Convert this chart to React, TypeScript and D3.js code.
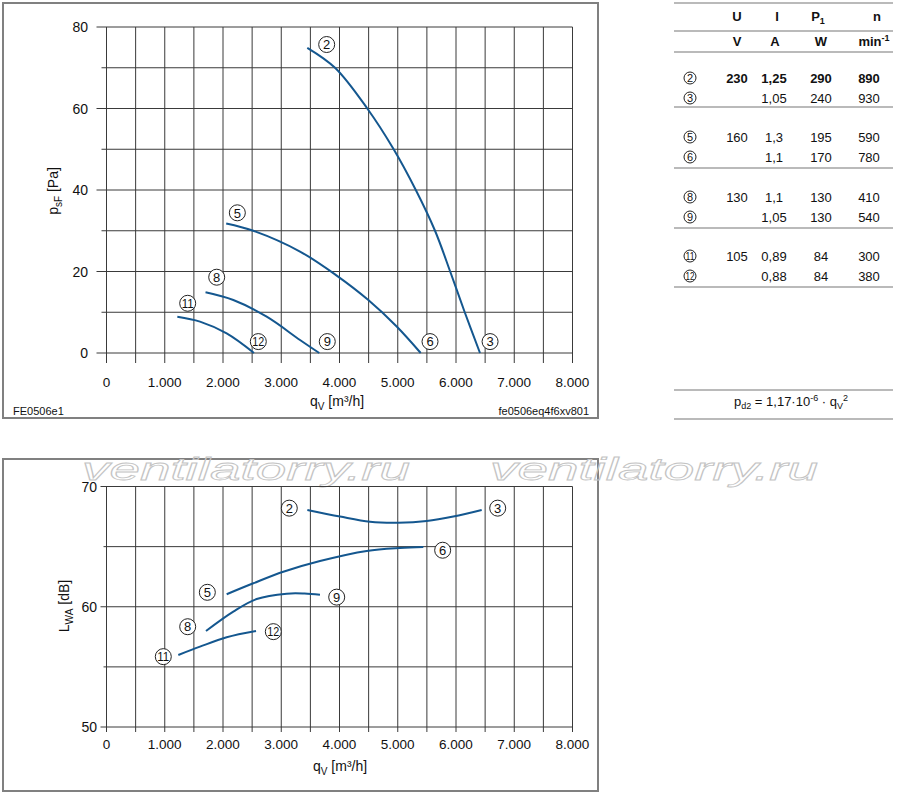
import * as d3 from 'd3'

// flow axis shared by both charts
const flowTicks = [0, 1000, 2000, 3000, 4000, 5000, 6000, 7000, 8000]
const flowLabels = ['0', '1.000', '2.000', '3.000', '4.000', '5.000', '6.000', '7.000', '8.000']
const flowGrid = d3.range(0, 8001, 500)

const pressureTicks = [0, 20, 40, 60, 80]
const pressureGrid = d3.range(0, 81, 10)
const soundTicks = [50, 60, 70]
const soundGrid = d3.range(50, 71, 5)

// pressure curves [qV m3/h, psF Pa]
const press23: [number, number][] = [
  [3447, 74.9], [3923, 70], [4477, 60], [4930, 50], [5310, 40],
  [5640, 30], [5900, 20], [6150, 10], [6412, 0],
]
const press56: [number, number][] = [
  [2055, 31.8], [2520, 30.0], [3322, 24.9], [3952, 19.0], [4495, 13.0],
  [4982, 6.5], [5394, 0],
]
const press89: [number, number][] = [
  [1700, 14.9], [2177, 13.0], [2750, 8.9], [3322, 3.2], [3653, 0],
]
const press1112: [number, number][] = [
  [1216, 8.9], [1605, 7.7], [2063, 4.8], [2532, 0],
]

// sound curves [qV m3/h, LWA dB]
const sound23: [number, number][] = [
  [3448, 68.05], [4009, 67.5], [4524, 67.07], [5010, 66.99], [5497, 67.13],
  [5954, 67.5], [6441, 68.05],
]
const sound56: [number, number][] = [
  [2063, 61.04], [2520, 61.95], [3035, 62.91], [3665, 63.8], [4467, 64.64],
  [5039, 64.89], [5439, 64.97],
]
const sound89: [number, number][] = [
  [1708, 57.98], [2177, 59.59], [2578, 60.64], [3093, 61.09], [3400, 61.1], [3665, 61.0],
]
const sound1112: [number, number][] = [
  [1233, 55.99], [1605, 56.68], [2063, 57.46], [2567, 57.98],
]

const pressureCurves = [press23, press56, press89, press1112]
const soundCurves = [sound23, sound56, sound89, sound1112]

// curve markers, in data units
const pressureMarks = [
  { id: '2', q: 3780, v: 75.7 },
  { id: '3', q: 6585, v: 2.8 },
  { id: '5', q: 2246, v: 34.4 },
  { id: '6', q: 5554, v: 2.8 },
  { id: '8', q: 1892, v: 18.6 },
  { id: '9', q: 3790, v: 2.8 },
  { id: '11', q: 1394, v: 12.2 },
  { id: '12', q: 2606, v: 2.8 },
]
const soundMarks = [
  { id: '2', q: 3138, v: 68.2 },
  { id: '3', q: 6716, v: 68.2 },
  { id: '5', q: 1731, v: 61.2 },
  { id: '6', q: 5771, v: 64.7 },
  { id: '8', q: 1394, v: 58.34 },
  { id: '9', q: 3952, v: 60.8 },
  { id: '11', q: 975, v: 55.85 },
  { id: '12', q: 2864, v: 57.93 },
]

const tableGroups = [
  { u: '230', rows: [{ id: '2', i: '1,25', p: '290', n: '890', bold: true }, { id: '3', i: '1,05', p: '240', n: '930', bold: false }] },
  { u: '160', rows: [{ id: '5', i: '1,3', p: '195', n: '590', bold: false }, { id: '6', i: '1,1', p: '170', n: '780', bold: false }] },
  { u: '130', rows: [{ id: '8', i: '1,1', p: '130', n: '410', bold: false }, { id: '9', i: '1,05', p: '130', n: '540', bold: false }] },
  { u: '105', rows: [{ id: '11', i: '0,89', p: '84', n: '300', bold: false }, { id: '12', i: '0,88', p: '84', n: '380', bold: false }] },
]

const FONT = '"Liberation Sans", Arial, sans-serif'
const BLUE = '#14578f'
const GRID = '#3a3a3a'

const x = d3.scaleLinear().domain([0, 8000]).range([106.5, 572.5])
const yP = d3.scaleLinear().domain([0, 80]).range([353, 27])
const yL = d3.scaleLinear().domain([50, 70]).range([727, 486.5])

const Marker = ({ cx, cy, id, r = 8, size = 13 }: { cx: number; cy: number; id: string; r?: number; size?: number }) => (
  <g>
    <circle cx={cx} cy={cy} r={r} fill="white" stroke="#222" strokeWidth={1} />
    <text
      x={cx}
      y={cy + size * 0.36}
      textAnchor="middle"
      fontSize={size}
      fontWeight="normal"
      fill="#111"
      {...(id.length > 1 ? { textLength: r * 1.5, lengthAdjust: 'spacingAndGlyphs' } : {})}
    >
      {id}
    </text>
  </g>
)

const Watermark = ({ left }: { left: number }) => (
  <text
    x={left}
    y={480}
    fontSize={31}
    fontStyle="italic"
    fill="none"
    stroke="#c4c4c4"
    strokeWidth={0.8}
    textLength={328}
    lengthAdjust="spacingAndGlyphs"
  >
    ventilatorry.ru
  </text>
)

const App = () => {
  const lineP = d3
    .line<[number, number]>()
    .x((d) => x(d[0]))
    .y((d) => yP(d[1]))
    .curve(d3.curveCatmullRom.alpha(0.5))
  const lineL = d3
    .line<[number, number]>()
    .x((d) => x(d[0]))
    .y((d) => yL(d[1]))
    .curve(d3.curveCatmullRom.alpha(0.5))

  const groupStart = [83, 142, 202, 261]
  const groupLines = [107, 168, 228, 287]

  return (
    <svg
      width={900}
      height={797}
      style={{ position: 'absolute', left: 0, top: 0, fontFamily: FONT }}
    >
      <rect width={900} height={797} fill="white" />

      {/* ---- pressure chart ---- */}
      <rect x={3} y={3} width={595} height={415} fill="none" stroke="#808080" strokeWidth={2} />
      {flowGrid.map((q) => (
        <line key={'pv' + q} x1={x(q)} x2={x(q)} y1={yP(80)} y2={yP(0) + 10} stroke={GRID} strokeWidth={1} />
      ))}
      {pressureGrid.map((p) => (
        <line key={'ph' + p} x1={x(0) - (p % 20 === 0 ? 10 : 5)} x2={x(8000)} y1={yP(p)} y2={yP(p)} stroke={GRID} strokeWidth={1} />
      ))}
      {pressureTicks.map((p) => (
        <text key={'pt' + p} x={88} y={yP(p) + 5} textAnchor="end" fontSize={14} fill="#111">
          {p}
        </text>
      ))}
      {flowTicks.map((q, i) => (
        <text key={'pxt' + q} x={x(q)} y={387} textAnchor="middle" fontSize={13.5} fill="#111">
          {flowLabels[i]}
        </text>
      ))}
      {pressureCurves.map((c, i) => (
        <path key={'pc' + i} d={lineP(c) ?? ''} fill="none" stroke={BLUE} strokeWidth={2} />
      ))}
      {pressureMarks.map((m) => (
        <Marker key={'pm' + m.id} cx={x(m.q)} cy={yP(m.v)} id={m.id} />
      ))}
      <text x={310} y={406} fontSize={14} fill="#111">
        q<tspan fontSize={10} dy={4}>V</tspan>
        <tspan dy={-4}> [m³/h]</tspan>
      </text>
      <text transform="translate(58,191) rotate(-90)" textAnchor="middle" fontSize={14} fill="#111">
        p<tspan fontSize={10} dy={4}>sF</tspan>
        <tspan dy={-4}> [Pa]</tspan>
      </text>
      <text x={13} y={415} fontSize={11} fill="#111">FE0506e1</text>
      <text x={589} y={415} fontSize={11} textAnchor="end" fill="#111">fe0506eq4f6xv801</text>

      {/* ---- table ---- */}
      {[3, 31, 52].map((yy) => (
        <line key={'th' + yy} x1={674} x2={893} y1={yy} y2={yy} stroke="#777" strokeWidth={1.2} />
      ))}
      {groupLines.map((yy) => (
        <line key={'tl' + yy} x1={674} x2={893} y1={yy} y2={yy} stroke="#777" strokeWidth={1.2} />
      ))}
      <line x1={674} x2={893} y1={390} y2={390} stroke="#777" strokeWidth={1.2} />
      <line x1={674} x2={893} y1={419} y2={419} stroke="#777" strokeWidth={1.2} />
      <g fontSize={13} fontWeight="bold" fill="#111" textAnchor="middle">
        <text x={737} y={21}>U</text>
        <text x={777} y={21}>I</text>
        <text x={818} y={21}>
          P<tspan fontSize={9} dy={3}>1</tspan>
        </text>
        <text x={877} y={21}>n</text>
        <text x={737} y={46}>V</text>
        <text x={775} y={46}>A</text>
        <text x={821} y={46}>W</text>
        <text x={874} y={46}>
          min<tspan fontSize={9} dy={-5}>-1</tspan>
        </text>
      </g>
      {tableGroups.map((g, gi) => (
        <g key={'tg' + gi} fontSize={13} fill="#111" textAnchor="middle">
          <text x={737} y={groupStart[gi]} fontWeight={g.rows[0].bold ? 'bold' : 'normal'}>
            {g.u}
          </text>
          {g.rows.map((r, ri) => {
            const yy = groupStart[gi] + ri * 20
            const fw = r.bold ? 'bold' : 'normal'
            return (
              <g key={'tr' + r.id} fontWeight={fw}>
                <Marker cx={690} cy={yy - 5} id={r.id} r={6} size={11} />
                <text x={774} y={yy}>{r.i}</text>
                <text x={821} y={yy}>{r.p}</text>
                <text x={869} y={yy}>{r.n}</text>
              </g>
            )
          })}
        </g>
      ))}
      <text x={791} y={406} fontSize={13} textAnchor="middle" fill="#111">
        p<tspan fontSize={9} dy={3}>d2</tspan>
        <tspan dy={-3}> = 1,17·10</tspan>
        <tspan fontSize={9} dy={-5}>-6</tspan>
        <tspan dy={5}> · q</tspan>
        <tspan fontSize={9} dy={3}>V</tspan>
        <tspan fontSize={9} dy={-8}>2</tspan>
      </text>

      {/* ---- sound chart ---- */}
      <rect x={3} y={459} width={595} height={332} fill="none" stroke="#808080" strokeWidth={2} />
      <Watermark left={82} />
      <Watermark left={490} />
      {flowGrid.map((q) => (
        <line key={'lv' + q} x1={x(q)} x2={x(q)} y1={yL(70)} y2={yL(50) + 5} stroke={GRID} strokeWidth={1} />
      ))}
      {soundGrid.map((l) => (
        <line key={'lh' + l} x1={x(0) - (l % 10 === 0 ? 6 : 3)} x2={x(8000)} y1={yL(l)} y2={yL(l)} stroke={GRID} strokeWidth={1} />
      ))}
      {soundTicks.map((l) => (
        <text key={'lt' + l} x={97} y={yL(l) + 5} textAnchor="end" fontSize={14} fill="#111">
          {l}
        </text>
      ))}
      {flowTicks.map((q, i) => (
        <text key={'lxt' + q} x={x(q)} y={749} textAnchor="middle" fontSize={13.5} fill="#111">
          {flowLabels[i]}
        </text>
      ))}
      {soundCurves.map((c, i) => (
        <path key={'lc' + i} d={lineL(c) ?? ''} fill="none" stroke={BLUE} strokeWidth={2} />
      ))}
      {soundMarks.map((m) => (
        <Marker key={'lm' + m.id} cx={x(m.q)} cy={yL(m.v)} id={m.id} />
      ))}
      <text x={313} y={771} fontSize={14} fill="#111">
        q<tspan fontSize={10} dy={4}>V</tspan>
        <tspan dy={-4}> [m³/h]</tspan>
      </text>
      <text transform="translate(69,606) rotate(-90)" textAnchor="middle" fontSize={14} fill="#111">
        L<tspan fontSize={10} dy={4}>WA</tspan>
        <tspan dy={-4}> [dB]</tspan>
      </text>
    </svg>
  )
}

export default App
